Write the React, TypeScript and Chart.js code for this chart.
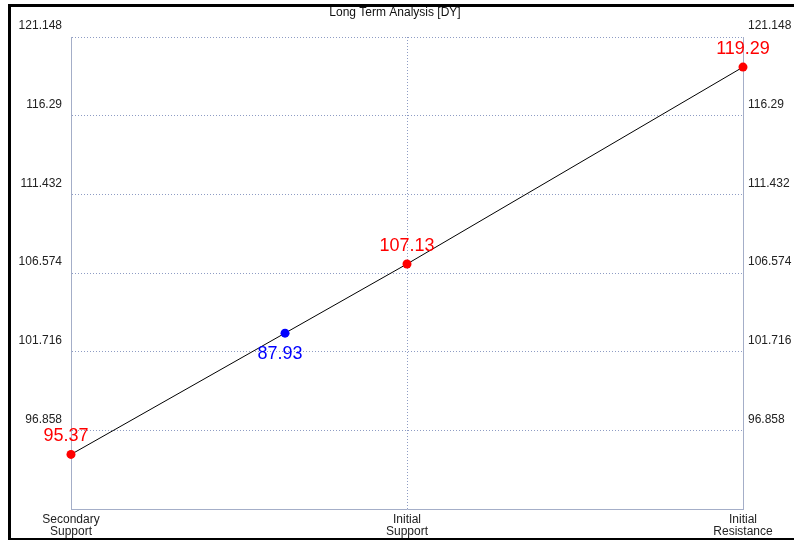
import React, { useEffect, useRef } from "react";
import { Chart, registerables } from "chart.js";

Chart.register(...registerables);

const title = "Long Term Analysis [DY]";
const categories: string[][] = [["Secondary", "Support"], ["Initial", "Support"], ["Initial", "Resistance"]];
const levels = [95.37, 107.13, 119.29];
const currentPrice = 87.93;
const currentX = 0.637;
const currentY = 102.86;
const yMin = 92;
const yMax = 121.148;
const yTicks = [96.858, 101.716, 106.574, 111.432, 116.29, 121.148];

const FONT = "'Liberation Sans', Arial, sans-serif";
const gridColor = "#8e9cc4";
const axisColor = "#a4aec8";

export default function App() {
  const ref = useRef<HTMLCanvasElement | null>(null);
  useEffect(() => {
    if (!ref.current) return;
    const labelPlugin = {
      id: "labels",
      afterDraw(chart: any) {
        const ctx = chart.ctx;
        ctx.save();
        ctx.fillStyle = "#111";
        ctx.font = `12px ${FONT}`;
        ctx.textAlign = "center";
        ctx.textBaseline = "middle";
        ctx.fillText(title, 395, 13);
        ctx.font = `18px ${FONT}`;
        const m0 = chart.getDatasetMeta(0);
        m0.data.forEach((p: any, i: number) => {
          ctx.fillStyle = "#ff0000";
          ctx.fillText(levels[i].toFixed(2), i === 0 ? p.x - 5 : p.x, p.y - 18);
        });
        const m1 = chart.getDatasetMeta(1);
        m1.data.forEach((p: any) => {
          ctx.fillStyle = "#0000ff";
          ctx.fillText(currentPrice.toFixed(2), p.x - 5, p.y + 21);
        });
        ctx.restore();
      },
    };
    const chart = new Chart(ref.current, {
      type: "scatter",
      data: {
        datasets: [
          {
            data: levels.map((v, i) => ({ x: i, y: v })),
            showLine: true,
            clip: false,
            order: 2,
            borderColor: "#000",
            borderWidth: 1,
            pointRadius: 4.5,
            pointBackgroundColor: "#ff0000",
            pointBorderWidth: 0,
          },
          {
            data: [{ x: currentX, y: currentY }],
            showLine: false,
            clip: false,
            order: 1,
            pointRadius: 4.5,
            pointBackgroundColor: "#0000ff",
            pointBorderWidth: 0,
          },
        ],
      },
      options: {
        animation: false,
        responsive: false,
        devicePixelRatio: 1,
        layout: { padding: { top: 37, left: 0, right: 0, bottom: 0 } },
        plugins: { legend: { display: false }, tooltip: { enabled: false } },
        scales: {
          x: {
            type: "linear",
            min: 0,
            max: 2,
            afterBuildTicks: (s: any) => {
              s.ticks = [0, 1, 2].map((v) => ({ value: v }));
            },
            afterFit: (s: any) => {
              s.height = 31;
            },
            ticks: {
              callback: (v: any) => categories[v as number],
              font: { family: FONT, size: 12, lineHeight: 1.0 },
              color: "#222",
              padding: 5,
              maxRotation: 0,
              autoSkip: false,
            },
            grid: {
              drawTicks: false,
              color: (c: any) => (c.tick && c.tick.value === 1 ? gridColor : "rgba(0,0,0,0)"),
              lineWidth: 1,
            },
            border: { display: true, color: axisColor, width: 1, dash: [1, 2] },
          },
          y: {
            type: "linear",
            position: "left",
            min: yMin,
            max: yMax,
            afterBuildTicks: (s: any) => {
              s.ticks = yTicks.map((v) => ({ value: v }));
            },
            afterFit: (s: any) => {
              s.width = 71;
            },
            ticks: {
              callback: (v: any) => String(v),
              font: { family: FONT, size: 12 },
              color: "#222",
              padding: 9,
              labelOffset: -11,
            },
            grid: { drawTicks: false, color: gridColor, lineWidth: 1 },
            border: { display: true, color: axisColor, width: 1, dash: [1, 2] },
          },
          y2: {
            type: "linear",
            position: "right",
            min: yMin,
            max: yMax,
            afterBuildTicks: (s: any) => {
              s.ticks = yTicks.map((v) => ({ value: v }));
            },
            afterFit: (s: any) => {
              s.width = 51;
            },
            ticks: {
              callback: (v: any) => String(v),
              font: { family: FONT, size: 12 },
              color: "#222",
              padding: 5,
              labelOffset: -11,
            },
            grid: { display: false, drawTicks: false },
            border: { display: true, color: axisColor, width: 1 },
          },
        },
      } as any,
      plugins: [labelPlugin],
    });
    return () => chart.destroy();
  }, []);
  return (
    <div style={{ position: "fixed", left: 0, top: 0, width: 794, height: 540, background: "#fff", overflow: "hidden" }}>
      <canvas ref={ref} width={794} height={540} style={{ position: "absolute", left: 0, top: 0 }} />
      <div
        style={{
          position: "absolute",
          left: 8,
          top: 4,
          width: 820,
          height: 531,
          borderTop: "3px solid #000",
          borderLeft: "3px solid #000",
          borderBottom: "3px solid #000",
          pointerEvents: "none",
        }}
      />
    </div>
  );
}
